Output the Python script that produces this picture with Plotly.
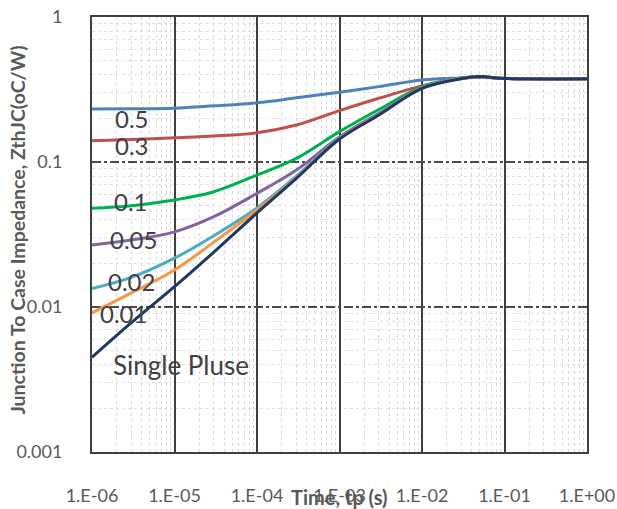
import math
import plotly.graph_objects as go

# Pulse width (s)
tp = [1e-6, 3e-6, 1e-5, 3e-5, 1e-4, 3e-4, 1e-3, 3e-3, 1e-2, 3e-2, 5e-2, 1e-1, 1.0]

# Transient thermal impedance Zth(j-c) in degC/W for each duty cycle
z_d05 = [0.232, 0.233, 0.235, 0.244, 0.256, 0.277, 0.303, 0.331, 0.368, 0.380, 0.384, 0.377, 0.375]
z_d03 = [0.140, 0.143, 0.147, 0.151, 0.159, 0.180, 0.226, 0.275, 0.335, 0.380, 0.386, 0.377, 0.375]
z_d01 = [0.048, 0.050, 0.0547, 0.0624, 0.0813, 0.106, 0.162, 0.230, 0.330, 0.379, 0.387, 0.377, 0.375]
z_d005 = [0.0268, 0.029, 0.033, 0.042, 0.0608, 0.0880, 0.149, 0.217, 0.326, 0.378, 0.387, 0.377, 0.375]
z_d002 = [0.0134, 0.016, 0.0217, 0.031, 0.0482, 0.080, 0.146, 0.213, 0.324, 0.377, 0.387, 0.377, 0.375]
z_d001 = [0.0091, 0.0125, 0.018, 0.028, 0.0467, 0.078, 0.145, 0.212, 0.323, 0.376, 0.387, 0.377, 0.375]
z_single = [0.0045, 0.0078, 0.0138, 0.0239, 0.0445, 0.077, 0.144, 0.211, 0.322, 0.375, 0.388, 0.377, 0.375]

series = [
    ("D=0.5", z_d05, "#4F81BD"),
    ("D=0.3", z_d03, "#C0504D"),
    ("D=0.1", z_d01, "#00B050"),
    ("D=0.05", z_d005, "#8064A2"),
    ("D=0.02", z_d002, "#4BACC6"),
    ("D=0.01", z_d001, "#F79646"),
    ("Single Pulse", z_single, "#1F3864"),
]

# Curve labels and where they sit (time, Zth)
label_text = ["0.5", "0.3", "0.1", "0.05", "0.02", "0.01", "Single Pluse"]
label_t = [3.03e-6, 3.03e-6, 2.97e-6, 3.14e-6, 2.97e-6, 2.38e-6, 1.2e-5]
label_z = [0.198, 0.131, 0.0535, 0.0294, 0.0151, 0.00895, 0.00395]
label_size = [24, 24, 24, 24, 24, 24, 26]

x_ticks = [1e-6, 1e-5, 1e-4, 1e-3, 1e-2, 1e-1, 1.0]
x_tick_text = ["1.E-06", "1.E-05", "1.E-04", "1.E-03", "1.E-02", "1.E-01", "1.E+00"]
y_ticks = [0.001, 0.01, 0.1, 1]
y_tick_text = ["0.001", "0.01", "0.1", "1"]

FONT = "Lato, 'Open Sans', sans-serif"

fig = go.Figure()
for name, z, color in series:
    fig.add_trace(go.Scatter(
        x=tp, y=z, mode="lines", name=name,
        line=dict(color=color, width=3, shape="spline", smoothing=1.0),
        hoverinfo="skip",
    ))

for txt, t, z, sz in zip(label_text, label_t, label_z, label_size):
    fig.add_annotation(
        x=math.log10(t), y=math.log10(z), xref="x", yref="y",
        text=txt, showarrow=False, xanchor="center", yanchor="middle",
        font=dict(family=FONT, size=sz, color="#404040"),
    )

# Axis titles
fig.add_annotation(
    x=0.5, y=0, xref="paper", yref="paper", yshift=-45,
    text="<b>Time, tp (s)</b>", showarrow=False,
    xanchor="center", yanchor="middle",
    font=dict(family=FONT, size=20, color="#595959"),
)
fig.add_annotation(
    x=0, y=0.5, xref="paper", yref="paper", xshift=-75, yshift=4,
    text="<b>Junction To Case Impedance, ZthJC(oC/W)</b>", showarrow=False,
    textangle=-90, xanchor="center", yanchor="middle",
    font=dict(family=FONT, size=19.5, color="#595959"),
)

fig.update_xaxes(
    type="log", range=[-6, 0], automargin=False,
    tickvals=x_ticks, ticktext=x_tick_text,
    tickfont=dict(family=FONT, size=18, color="#595959"),
    ticks="", ticklabelstandoff=26,
    showgrid=True, gridcolor="#3F3F3F", gridwidth=2,
    minor=dict(dtick="D1", showgrid=True, gridcolor="#D9D9D9", gridwidth=1, griddash="dot"),
    showline=True, linecolor="#404040", linewidth=2, mirror=True,
    zeroline=False,
)
fig.update_yaxes(
    type="log", range=[-3, 0], automargin=False,
    tickvals=y_ticks, ticktext=y_tick_text,
    tickfont=dict(family=FONT, size=18, color="#595959"),
    ticks="", ticklabelstandoff=24,
    showgrid=True, gridcolor="#4A4A4A", gridwidth=2, griddash="dashdot",
    minor=dict(dtick="D1", showgrid=True, gridcolor="#E0E0E0", gridwidth=1, griddash="dot"),
    showline=True, linecolor="#404040", linewidth=2, mirror=True,
    zeroline=False,
)

fig.update_layout(
    width=617, height=509,
    margin=dict(l=92, r=30, t=17, b=57, autoexpand=False),
    paper_bgcolor="white", plot_bgcolor="white",
    showlegend=False,
    font=dict(family=FONT),
)

fig.write_html("out.html")
